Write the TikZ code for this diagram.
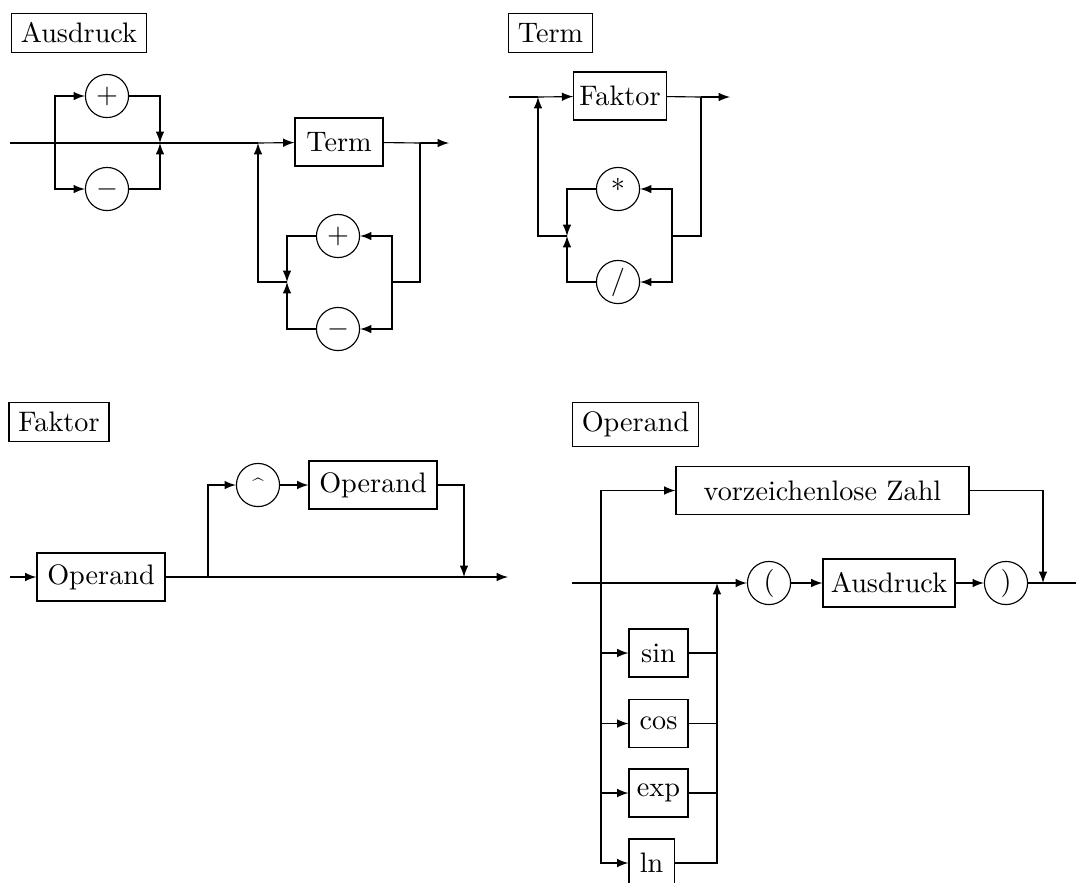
\documentclass[tikz,border=0pt]{standalone}
\usepackage{amsmath,amssymb}
\usepackage{xcolor}
\usepackage{tikz}
\usetikzlibrary{shapes,arrows,positioning,calc}

\begin{document}
\begin{tikzpicture}[
    x=0.3546pt, y=-0.3546pt,
    box/.style={rectangle, draw, minimum height=17pt, inner sep=2pt, align=center},
    op/.style={circle, draw, minimum size=15.3pt, inner sep=0pt},
    rulename/.style={rectangle, draw},
    arrow/.style={-latex}
]
\useasboundingbox (0,0) rectangle (1076,882);

% Ausdruck
\node[rulename] (lausdruck) at (79,33) {Ausdruck};
\coordinate (a0) at (10,143);
\coordinate (asplit) at (55,143);
\node[op] (aplus) at (107,96) {$+$};
\node[op] (aminus) at (107,189) {$-$};
\coordinate (ajoin) at (160,143);
\coordinate (aloop) at (258,143);
\node[box, minimum width=31.2pt] (aterm) at (339,142) {Term};
\coordinate (aout) at (420,143);
\coordinate (aend) at (449,143);
\node[op] (aplus2) at (338,236) {$+$};
\node[op] (aminus2) at (338,329) {$-$};
\coordinate (aback) at (392,282);
\coordinate (ajoin2) at (287,282);

\draw (a0) -- (aloop);
\draw[arrow] (asplit) |- (aplus);
\draw[arrow] (asplit) |- (aminus);
\draw[arrow] (aplus) -| (ajoin);
\draw[arrow] (aminus) -| (ajoin);
\draw[arrow] (aloop) -- (aterm);
\draw (aterm) -- (aout);
\draw[arrow] (aout) -- (aend);
\draw (aout) |- (aback);
\draw[arrow] (aback) |- (aplus2);
\draw[arrow] (aback) |- (aminus2);
\draw[arrow] (aplus2) -| (ajoin2);
\draw[arrow] (aminus2) -| (ajoin2);
\draw[arrow] (ajoin2) -| (aloop);

% Term
\node[rulename] (lterm) at (550.5,33) {Term};
\coordinate (t0) at (509,97);
\coordinate (tloop) at (538,97);
\node[box, minimum width=31.2pt] (tfaktor) at (620,96) {Faktor};
\coordinate (tout) at (701,97);
\coordinate (tend) at (730,97);
\node[op] (tmul) at (618,189) {*};
\node[op] (tdiv) at (618,282) {/};
\coordinate (tback) at (672,236);
\coordinate (tjoin) at (567,236);

\draw (t0) -- (tloop);
\draw[arrow] (tloop) -- (tfaktor);
\draw (tfaktor) -- (tout);
\draw[arrow] (tout) -- (tend);
\draw (tout) |- (tback);
\draw[arrow] (tback) |- (tmul);
\draw[arrow] (tback) |- (tdiv);
\draw[arrow] (tmul) -| (tjoin);
\draw[arrow] (tdiv) -| (tjoin);
\draw[arrow] (tjoin) -| (tloop);

% Faktor
\node[rulename] (lfaktor) at (59,422) {Faktor};
\coordinate (f0) at (10,577);
\node[box, minimum width=45.4pt] (fop) at (101,577) {Operand};
\coordinate (fsplit) at (208,577);
\node[op] (fpow) at (258,485) {\scriptsize\^{}};
\node[box, minimum width=45.4pt] (fop2) at (373,485) {Operand};
\coordinate (fjoin) at (464,577);
\coordinate (fend) at (508,577);

\draw[arrow] (f0) -- (fop);
\draw[arrow] (fop) -- (fend);
\draw[arrow] (fsplit) |- (fpow);
\draw[arrow] (fpow) -- (fop2);
\draw[arrow] (fop2) -| (fjoin);

% Operand
\node[rulename] (loperand) at (635.5,424.5) {Operand};
\coordinate (o0) at (572,583);
\coordinate (osplit) at (601,583);
\node[box, minimum width=103.9pt] (ozahl) at (822.5,490.5) {vorzeichenlose Zahl};
\coordinate (ofunc) at (717,583);
\node[op] (olpar) at (769,583) {(};
\node[box, minimum width=46.8pt] (oausdruck) at (889,583) {Ausdruck};
\node[op] (orpar) at (1006,583) {)};
\coordinate (ojoin) at (1043,583);
\coordinate (oend) at (1076,583);
\node[box, minimum width=20.9pt] (osin) at (658.5,653) {sin};
\node[box, minimum width=20.9pt] (ocos) at (658.5,723.5) {cos};
\node[box, minimum width=20.9pt] (oexp) at (658.5,793) {exp};
\node[box, minimum width=16pt] (oln) at (651.5,863) {ln};

\draw (o0) -- (ofunc);
\draw[arrow] (osplit) |- (ozahl);
\draw[arrow] (ozahl) -| (ojoin);
\draw[arrow] (ofunc) -- (olpar);
\draw[arrow] (olpar) -- (oausdruck);
\draw[arrow] (oausdruck) -- (orpar);
\draw (orpar) -- (oend);
\draw[arrow] (osplit) |- (osin);
\draw[arrow] (osplit) |- (ocos);
\draw[arrow] (osplit) |- (oexp);
\draw[arrow] (osplit) |- (oln);
\draw (osin) -- (osin -| ofunc);
\draw (ocos) -- (ocos -| ofunc);
\draw (oexp) -- (oexp -| ofunc);
\draw[arrow] (oln) -| (ofunc);

\end{tikzpicture}
\end{document}
